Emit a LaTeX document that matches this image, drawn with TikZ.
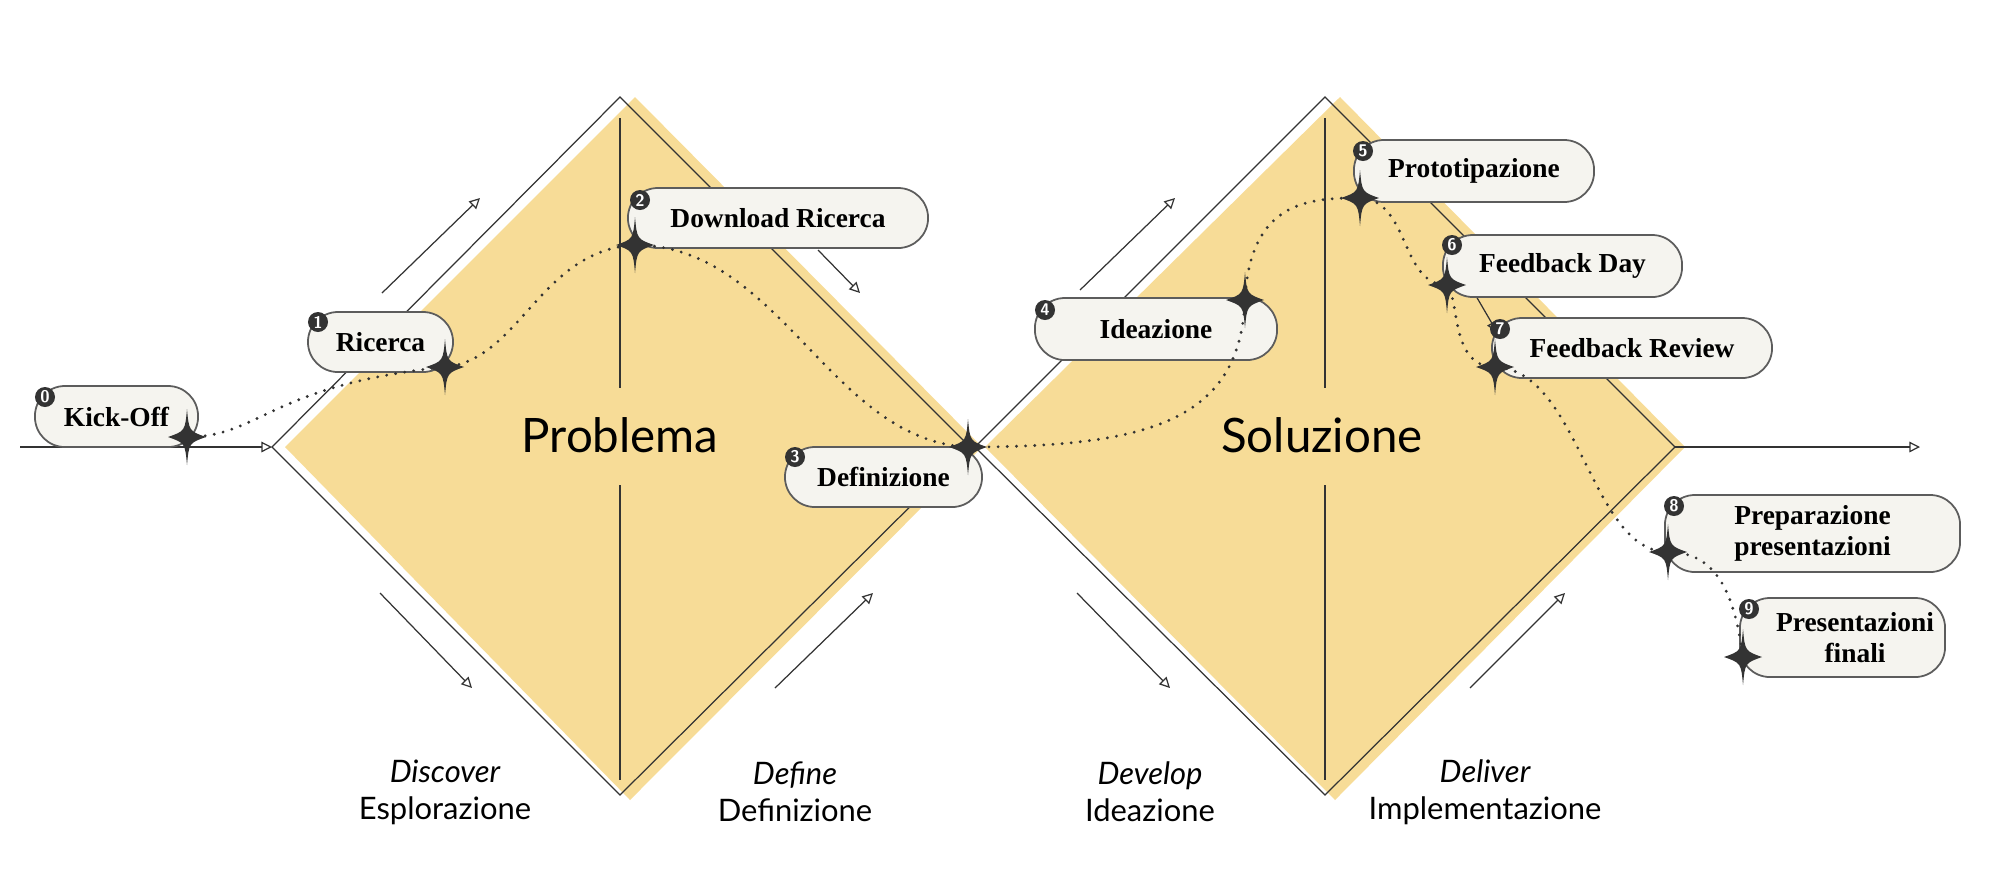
\documentclass[tikz,border=0pt]{standalone}
\usepackage{fontspec}
\setmainfont{Liberation Serif}
\newfontfamily\lab{Lato}
\usetikzlibrary{arrows.meta}
\definecolor{ylw}{HTML}{F7DC97}
\definecolor{boxf}{HTML}{F5F4EF}
\definecolor{ink}{HTML}{333333}
\begin{document}
\begin{tikzpicture}[x=0.01cm,y=-0.01cm,
  ln/.style={draw=ink,line width=0.35pt},
  ar/.style={ln,-{Triangle[open,length=3pt,width=3pt]}},
  box/.style={draw=ink!80,fill=boxf,rounded corners=0.3cm,line width=0.5pt,inner sep=0pt,font=\fontsize{7.8}{9}\selectfont\bfseries,align=center},
  num/.style={circle,fill=ink,text=white,inner sep=0pt,minimum size=0.2cm,font=\fontsize{4.8}{5}\selectfont\sffamily\bfseries},
  phase/.style={font=\lab\fontsize{8.8}{10.5}\selectfont,align=center},
  big/.style={font=\lab\fontsize{13.5}{15}\selectfont}]
\useasboundingbox (0,0) rectangle (2000,890);
% yellow fills
\fill[ylw] (635,97) -- (982,447) -- (630,800) -- (285,447) -- cycle;
\fill[ylw] (1340,97) -- (1685,447) -- (1335,800) -- (985,447) -- cycle;
% outlines
\draw[ln] (272,447) -- (620,97) -- (970,447) -- (620,795) -- cycle;
\draw[ln] (975,447) -- (1325,97) -- (1675,447) -- (1325,795) -- cycle;
\draw[ln] (620,118) -- (620,388); \draw[ln] (620,485) -- (620,780);
\draw[ln] (1325,118) -- (1325,388); \draw[ln] (1325,485) -- (1325,780);
\draw[ar] (20,447) -- (272,447);
\draw[ar] (1675,447) -- (1920,447);
% direction arrows
\draw[ar] (382,293) -- (480,198);
\draw[ar] (818,250) -- (860,293);
\draw[ar] (380,593) -- (472,688);
\draw[ar] (775,688) -- (873,593);
\draw[ar] (1080,290) -- (1175,198);
\draw[ar] (1469,284) -- (1497,332);
\draw[ar] (1077,593) -- (1170,688);
\draw[ar] (1470,688) -- (1565,593);
% big labels
\node[big] (prob) at (620,435) {Problema};
\node[big] (sol) at (1322,435) {Soluzione};
\node[phase] (p1) at (445,792) {\itshape Discover\\Esplorazione};
\node[phase] (p2) at (795,792) {\itshape Define\\Definizione};
\node[phase] (p3) at (1150,792) {\itshape Develop\\Ideazione};
\node[phase] (p4) at (1485,792) {\itshape Deliver\\Implementazione};
% boxes
\node[box,minimum width=1.63cm,minimum height=0.61cm] (b0) at (116.5,416.5) {Kick-Off};
\node[box,minimum width=1.45cm,minimum height=0.60cm] (b1) at (380.5,342) {Ricerca};
\node[box,minimum width=3.00cm,minimum height=0.60cm] (b2) at (778,218) {Download Ricerca};
\node[box,minimum width=1.97cm,minimum height=0.60cm] (b3) at (883.5,477) {Definizione};
\node[box,minimum width=2.42cm,minimum height=0.62cm] (b4) at (1156,329) {Ideazione};
\node[box,minimum width=2.40cm,minimum height=0.62cm] (b5) at (1474,171) {Prototipazione};
\node[box,minimum width=2.39cm,minimum height=0.62cm] (b6) at (1562.5,266) {Feedback Day};
\node[box,minimum width=2.80cm,minimum height=0.60cm] (b7) at (1632,348) {Feedback Review};
\node[box,minimum width=2.95cm,minimum height=0.77cm] (b8) at (1812.5,533.5) {Preparazione\\presentazioni};
\node[box,minimum width=2.05cm,minimum height=0.79cm] (b9) at (1842.5,637.5) {\hspace{0.25cm}Presentazioni\\\hspace{0.25cm}finali};
\foreach \n/\x/\y in {0/45/397,1/318/322,2/640/200,3/795/457,4/1045/310,5/1363/151,6/1452/245,7/1500/329,8/1674/506,9/1749/609}
  \node[num] (n\n) at (\x,\y) {\n};
% star anchor points
\foreach \n/\x/\y in {0/187/437,1/445/367,2/635/245,3/968/447,4/1245/300,5/1360/198,6/1447/285,7/1495/367,8/1668/552,9/1743/657}
  \coordinate (s\n) at (\x,\y);
% dotted path
\draw[ink,line width=0.9pt,dash pattern=on 0pt off 2.6pt,line cap=round]
  (s0) .. controls (260,437) and (270,385) .. (s1)
  .. controls (520,360) and (540,250) .. (s2)
  .. controls (780,245) and (830,440) .. (s3)
  .. controls (1150,447) and (1240,420) .. (s4)
  .. controls (1250,200) and (1310,198) .. (s5)
  .. controls (1410,200) and (1400,285) .. (s6)
  .. controls (1460,300) and (1450,367) .. (s7)
  .. controls (1580,370) and (1590,552) .. (s8)
  .. controls (1720,552) and (1735,600) .. (s9);
% stars
\foreach \n in {0,...,9}
  \fill[ink,shift={(s\n)}] (0,-28) .. controls (2,-6) .. (19,0) .. controls (2,6) .. (0,28)
     .. controls (-2,6) .. (-19,0) .. controls (-2,-6) .. cycle;
\end{tikzpicture}
\end{document}
